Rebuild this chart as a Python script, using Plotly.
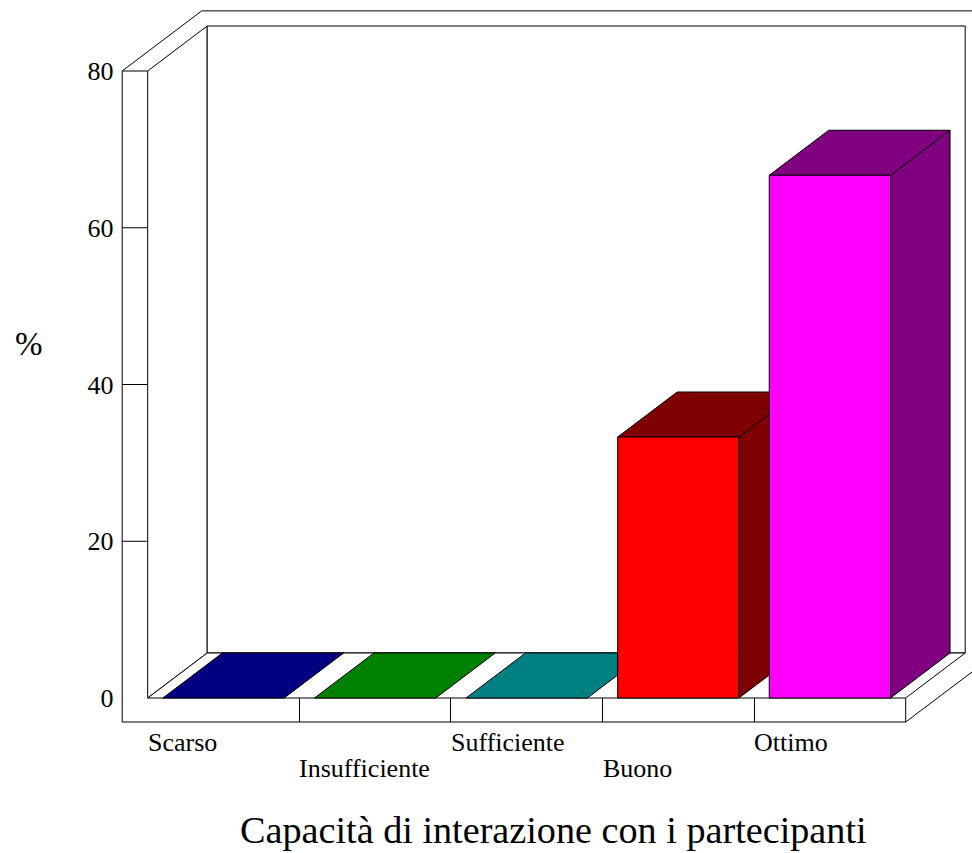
import plotly.graph_objects as go

categories = ["Scarso", "Insufficiente", "Sufficiente", "Buono", "Ottimo"]
values = [0, 0, 0, 33.3, 66.7]
front_colors = ["#0000ff", "#00ff00", "#00ffff", "#ff0000", "#ff00ff"]
shade_colors = ["#000080", "#008000", "#008080", "#7f0000", "#800080"]
y_ticks = [0, 20, 40, 60, 80]
x_title = "Capacità di interazione con i partecipanti"
y_title = "%"

W, H = 972, 853
X0, XPX = 147.7, 151.6      # px of category edge 0, px per category
Y0, YPX = 698.0, 7.8375     # px of value 0, px per unit
DX, DY = 59.5 / XPX, 45.0 / YPX      # depth of the 3D box in data units
OX, OY = 25.5 / XPX, 24.0 / YPX      # outer rim of the box
BAR_INSET = 0.1
N = len(categories)
YMAX = y_ticks[-1]
FONT = "Liberation Serif"

fig = go.Figure()


def poly(xs, ys, fill=None, width=1):
    fig.add_trace(go.Scatter(
        x=xs, y=ys, mode="lines",
        line=dict(color="black", width=width),
        fill="toself" if fill else "none",
        fillcolor=fill,
        hoverinfo="skip", showlegend=False,
    ))


# outer rim of the box (runs off the right of the page)
poly([N + DX * 1.34, N, -OX, -OX, -OX + DX * 1.336, N + DX * 1.34],
     [-OY + DY * 1.336, -OY, -OY, YMAX, YMAX + DY * 1.336, YMAX + DY * 1.336])
poly([N, N], [-OY, 0])

# left wall, back wall, floor
poly([0, DX, DX, 0, 0], [0, DY, YMAX + DY, YMAX, 0], fill="white")
poly([DX, N + DX, N + DX, DX, DX], [DY, DY, YMAX + DY, YMAX + DY, DY], fill="white")
poly([0, N, N + DX, DX, 0], [0, 0, DY, DY, 0], fill="white")

# y tick marks (none at zero)
for t in y_ticks[1:]:
    poly([-OX, 0], [t, t])

# bars
for i, v in enumerate(values):
    l, r = i + BAR_INSET, i + 1 - BAR_INSET
    if v > 0:
        poly([r, r + DX, r + DX, r, r], [0, DY, v + DY, v, 0], fill=shade_colors[i])
    poly([l, r, r + DX, l + DX, l], [v, v, v + DY, v + DY, v], fill=shade_colors[i])
    if v > 0:
        poly([l, r, r, l, l], [0, 0, v, v, 0], fill=front_colors[i])

annotations = []
for i, c in enumerate(categories):
    row_y = 768 if i % 2 else 742
    annotations.append(dict(
        x=i, y=1 - row_y / H, xref="x", yref="paper", text=c, showarrow=False,
        xanchor="left", yanchor="middle", xshift=-2,
        font=dict(family=FONT, size=26, color="black"),
    ))
annotations.append(dict(
    x=553.5 / W, y=1 - 830 / H, xref="paper", yref="paper", text=x_title, showarrow=False,
    xanchor="center", yanchor="middle", font=dict(family=FONT, size=38.2, color="black"),
))
annotations.append(dict(
    x=28.5 / W, y=1 - 344 / H, xref="paper", yref="paper", text=y_title, showarrow=False,
    xanchor="center", yanchor="middle", font=dict(family=FONT, size=33, color="black"),
))

fig.update_layout(
    width=W, height=H, margin=dict(l=0, r=0, t=0, b=0),
    paper_bgcolor="white", plot_bgcolor="white",
    showlegend=False, annotations=annotations,
    xaxis=dict(
        domain=[0, 1], range=[-X0 / XPX, (W - X0) / XPX],
        anchor="free", position=(H - 722) / H,
        tickvals=[1, 2, 3, 4], ticks="inside", ticklen=24, tickwidth=1, tickcolor="black",
        showticklabels=False, showgrid=False, zeroline=False, showline=False,
    ),
    yaxis=dict(
        domain=[0, 1], range=[-(H - Y0) / YPX, Y0 / YPX],
        anchor="free", position=122.5 / W,
        tickvals=y_ticks, ticks="", ticklabelstandoff=9,
        tickfont=dict(family=FONT, size=26, color="black"),
        showgrid=False, zeroline=False, showline=False,
    ),
)

fig.write_html(
    "out.html",
    config=dict(displayModeBar=False),
    post_script="document.body.style.margin='0';document.body.style.overflow='hidden';",
)
